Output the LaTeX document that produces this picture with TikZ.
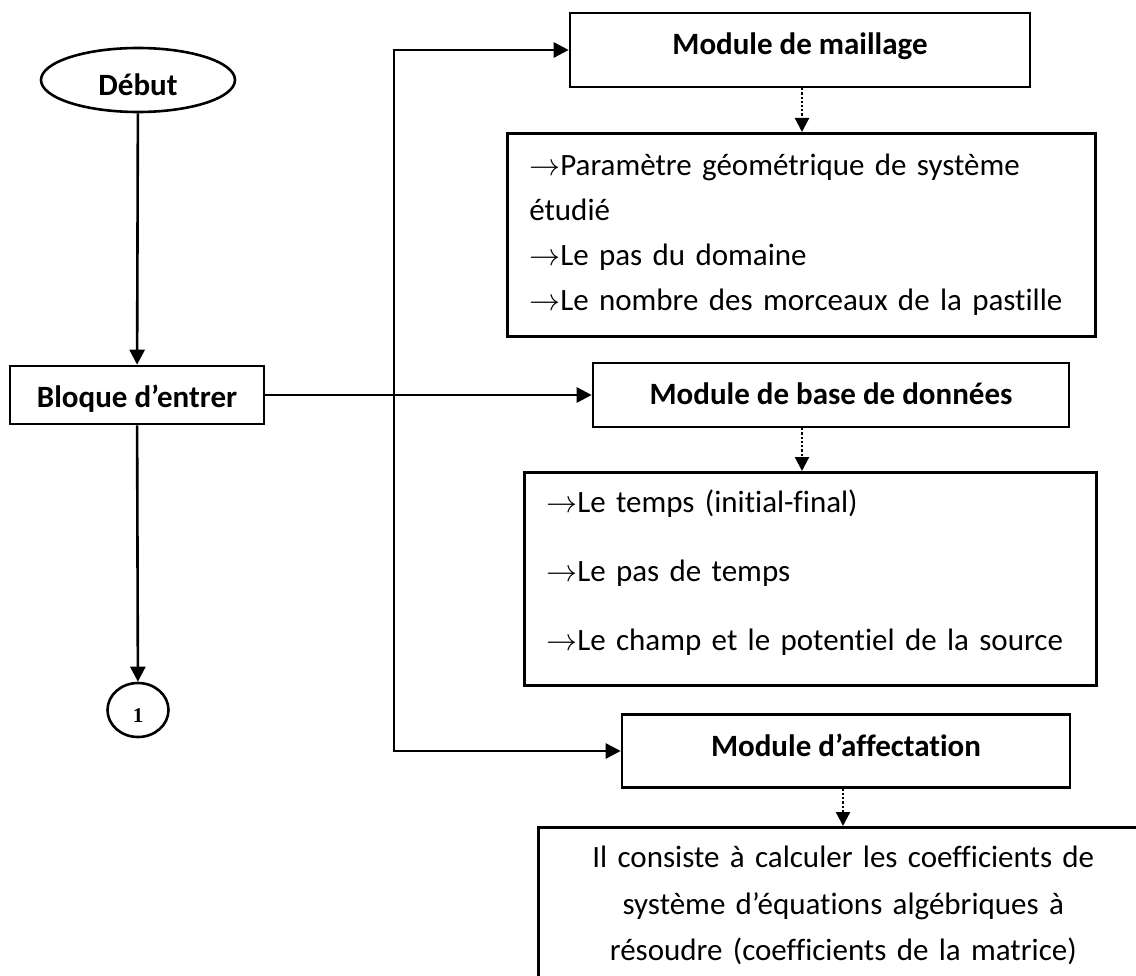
\RequirePackage{fix-cm}
\documentclass[tikz,border=0pt]{standalone}
\usepackage{fontspec}
\setmainfont{Carlito}[Ligatures=CommonOff]
\newfontfamily\numfont{Liberation Serif}
\usetikzlibrary{arrows.meta,shapes.geometric}
\begin{document}
\begin{tikzpicture}[x=1pt,y=-1pt,line width=2.6pt,
  box/.style={draw,rectangle,inner sep=0pt,line width=2.6pt},
  boldtxt/.style={font=\fontsize{31}{38}\selectfont\bfseries},
  arr/.style={-{Triangle[length=15pt,width=15pt]}},
  dotarr/.style={dotted,line width=2.2pt,-{Triangle[length=14pt,width=14pt]}}]
\useasboundingbox (0,0) rectangle (1136,976);
\clip (0,0) rectangle (1136,976);
% left column
\node[ellipse,draw,minimum width=194pt,minimum height=64pt,inner sep=0pt,text height=32pt,text depth=0pt,boldtxt] (debut) at (138,80) {Début};
\node[box,minimum width=254pt,minimum height=58pt,text height=30pt,text depth=4pt,boldtxt] (bloque) at (137,395) {Bloque d’entrer};
\node[ellipse,draw,minimum width=61pt,minimum height=54pt,inner sep=0pt,text height=25pt,text depth=0pt,font=\fontsize{21}{25}\selectfont\numfont\bfseries] (un) at (138,710) {1};
% right column
\node[box,minimum width=460pt,minimum height=74pt,text height=25pt,text depth=15pt,boldtxt] (maillage) at (800,50) {Module de maillage};
\node[box,anchor=north west,minimum width=588pt,minimum height=203pt,text width=544pt,inner xsep=22pt,align=left,font=\fontsize{31}{45}\selectfont] (params) at (506,132) {$\rightarrow$Paramètre géométrique de système\\étudié\\$\rightarrow$Le pas du domaine\\$\rightarrow$Le nombre des morceaux de la pastille};
\node[box,minimum width=476pt,minimum height=64pt,text height=28pt,text depth=8pt,boldtxt] (base) at (831,395) {Module de base de données};
\node[box,anchor=north west,minimum width=572pt,minimum height=213pt,text width=528pt,inner xsep=22pt,align=left,font=\fontsize{31}{69}\selectfont] (temps) at (523,471) {$\rightarrow$Le temps (initial-final)\\$\rightarrow$Le pas de temps\\$\rightarrow$Le champ et le potentiel de la source\rule[-18pt]{0pt}{18pt}};
\node[box,minimum width=448pt,minimum height=73pt,text height=25pt,text depth=14pt,boldtxt] (affect) at (846,751) {Module d’affectation};
\node[box,anchor=north west,minimum width=610pt,text width=590pt,inner xsep=10pt,inner ysep=19pt,align=center,font=\fontsize{31}{46.5}\selectfont] (coef) at (537,826) {Il consiste à calculer les coefficients de\\système d’équations algébriques à\\résoudre (coefficients de la matrice)};
% helper coordinates
\coordinate (vx) at (394,0);
\coordinate (d1) at (802,0);
\coordinate (d2) at (802,0);
\coordinate (d3) at (843,0);
% connectors
\draw[arr] (debut) -- (bloque);
\draw[arr] (bloque) -- (un);
\draw[arr] (bloque.east) -- (base.west);
\draw[{Triangle[length=15pt,width=15pt]}-{Triangle[length=15pt,width=15pt]}] (maillage.west) -- (maillage.west -| vx) -- (vx |- affect.west) -- (affect.west);
\draw[dotarr] (maillage.south -| d1) -- (params.north -| d1);
\draw[dotarr] (base.south -| d2) -- (temps.north -| d2);
\draw[dotarr] (affect.south -| d3) -- (coef.north -| d3);
\end{tikzpicture}
\end{document}
